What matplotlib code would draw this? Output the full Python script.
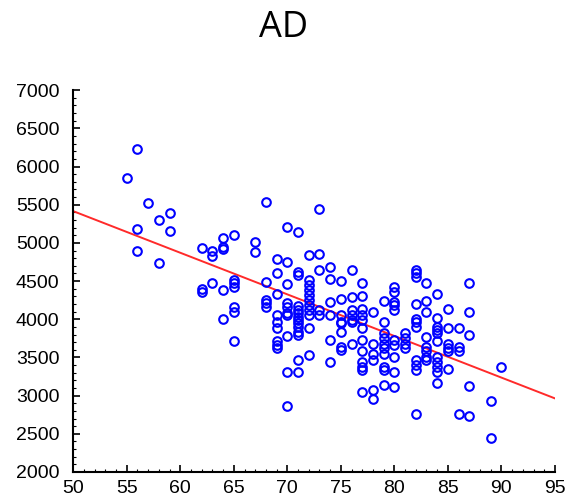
import matplotlib
matplotlib.use("Agg")
import matplotlib.pyplot as plt
from matplotlib.ticker import MultipleLocator

# Age columns and the AD values observed at each age
columns = {
    55: [5850],
    56: [6230, 5180, 4900],
    57: [5520],
    58: [5300, 4740],
    59: [5390, 5150],
    62: [4940, 4400, 4360],
    63: [4900, 4830, 4480],
    64: [5070, 4950, 4920, 4390, 4010],
    65: [5100, 4510, 4470, 4420, 4160, 4100, 3720],
    67: [5010, 4880],
    68: [5540, 4490, 4250, 4210, 4160],
    69: [4790, 4600, 4330, 4060, 3970, 3880, 3710, 3660, 3620],
    70: [5210, 4750, 4460, 4210, 4160, 4080, 4050, 3780, 3310, 2860],
    71: [5140, 4620, 4580, 4170, 4120, 4080, 4030, 3990, 3950, 3900, 3840, 3790, 3470, 3310],
    72: [4840, 4510, 4450, 4380, 4320, 4250, 4190, 4120, 4060, 3880, 3530],
    73: [5440, 4860, 4640, 4120, 4060],
    74: [4690, 4530, 4230, 4060, 3730, 3440],
    75: [4500, 4260, 4060, 3970, 3950, 3840, 3640, 3600],
    76: [4640, 4290, 4120, 4060, 3990, 3970, 3680],
    77: [4480, 4300, 4140, 4060, 3990, 3880, 3730, 3580, 3440, 3380, 3340, 3050],
    78: [4090, 3680, 3550, 3470, 3080, 2950],
    79: [4240, 3960, 3820, 3750, 3680, 3620, 3550, 3380, 3340, 3140],
    80: [4420, 4360, 4230, 4190, 4120, 3730, 3660, 3510, 3310, 3110],
    81: [3820, 3750, 3680, 3620],
    82: [4650, 4600, 4560, 4200, 4010, 3960, 3900, 3470, 3400, 3330, 2760],
    83: [4480, 4240, 4100, 3770, 3640, 3580, 3510, 3470],
    84: [4330, 4020, 3900, 3860, 3820, 3710, 3510, 3440, 3380, 3310, 3170],
    85: [4130, 3880, 3680, 3620, 3580, 3350],
    86: [3890, 3640, 3580, 2760],
    87: [4480, 4090, 3790, 3120, 2730],
    89: [2930, 2440],
    90: [3380],
}
age = [a for a, vals in columns.items() for _ in vals]
ad = [v for vals in columns.values() for v in vals]

# Fitted regression line endpoints
fit_x = [50, 95]
fit_y = [5416, 2964]

title = "AD"
x_ticks = [50, 55, 60, 65, 70, 75, 80, 85, 90, 95]
y_ticks = [2000, 2500, 3000, 3500, 4000, 4500, 5000, 5500, 6000, 6500, 7000]

plt.rcParams['font.family'] = ['Liberation Sans Narrow', 'Liberation Sans', 'DejaVu Sans']

fig = plt.figure(figsize=(5.68, 5.04), dpi=100)
ax = fig.add_axes([0.129, 0.0635, 0.848, 0.7575])

ax.plot(fit_x, fit_y, color='#ff2a2a', lw=1.4, zorder=2)
ax.plot(age, ad, linestyle='none', marker='o', markersize=6.2,
        markerfacecolor='none', markeredgecolor='#0000ff', markeredgewidth=1.5, zorder=3)

ax.set_xlim(50, 95)
ax.set_ylim(2000, 7000)
ax.set_xticks(x_ticks)
ax.set_yticks(y_ticks)
ax.xaxis.set_minor_locator(MultipleLocator(1))
ax.yaxis.set_minor_locator(MultipleLocator(100))
for s in ['top', 'right']:
    ax.spines[s].set_visible(False)
for s in ['left', 'bottom']:
    ax.spines[s].set_linewidth(1.5)
ax.tick_params(which='major', direction='in', length=5, width=1.2, labelsize=14, pad=6)
ax.tick_params(which='minor', direction='in', length=2.5, width=0.8)
ax.tick_params(axis='y', pad=10)

fig.text(0.5, 0.945, title, ha='center', va='center', fontsize=26,
         family=['Open Sans', 'DejaVu Sans'])

fig.savefig("out.png", dpi=100)
